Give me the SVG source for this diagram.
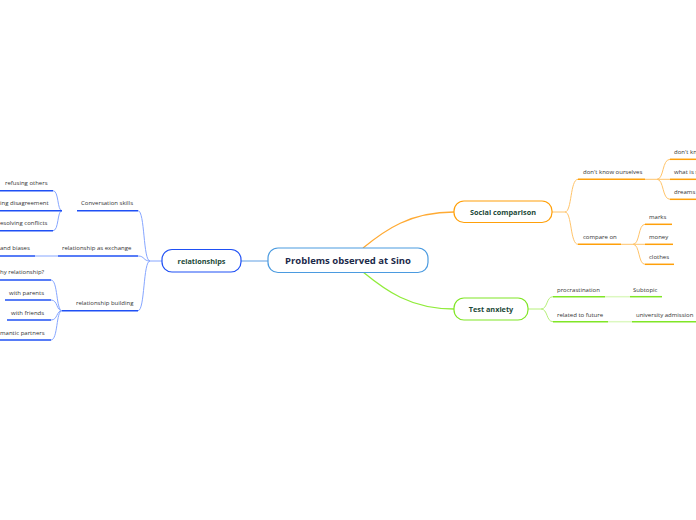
<svg xmlns="http://www.w3.org/2000/svg" width="696" height="520" viewBox="0 0 696 520">
<style>
text{font-family:"Open Sans","Noto Sans","Liberation Sans",sans-serif;}
.sub{font-size:6px;fill:#333;}
.main{font-size:7.3px;font-weight:bold;fill:#1d4a3a;text-anchor:middle;}
.bc{fill:none;stroke:#86a6ff;stroke-width:1;}
.bu{fill:none;stroke:#1f50f5;stroke-width:1.5;}
.oc{fill:none;stroke:#ffc46a;stroke-width:1;}
.ou{fill:none;stroke:#ffa00a;stroke-width:1.5;}
.gc{fill:none;stroke:#b6f07a;stroke-width:1;}
.gu{fill:none;stroke:#80e626;stroke-width:1.5;}
</style>
<rect width="696" height="520" fill="#fff"/>
<g id="connectors">
<path d="M241,261 L268,261" fill="none" stroke="#7ab0e8" stroke-width="1.2"/>
<path d="M363,248 C385,230 410,212 454,212" fill="none" stroke="#ffaa33" stroke-width="1.3"/>
<path d="M363,272 C385,290 410,309 454,309" fill="none" stroke="#90ec3a" stroke-width="1.3"/>
<path class="bc" d="M162,261 L150,261"/>
<path class="bc" d="M150,261 C143,261 145,210.7 138,210.7"/>
<path class="bc" d="M150,261 C143,261 145,256 138,256"/>
<path class="bc" d="M150,261 C143,261 145,310.7 138,310.7"/>
<path class="bc" d="M62,210.7 C57,210.7 59,190.7 53,190.7"/>
<path class="bc" d="M62,210.7 C57,210.7 59,230.7 53,230.7"/>
<path class="bc" d="M58,256 L35,256"/>
<path class="bc" d="M62,310.7 C56,310.7 58,280 51,280"/>
<path class="bc" d="M62,310.7 C56,310.7 58,300 51,300"/>
<path class="bc" d="M62,310.7 C56,310.7 58,320 51,320"/>
<path class="bc" d="M62,310.7 C56,310.7 58,340 51,340"/>
<path class="oc" d="M552,212 L565,212"/>
<path class="oc" d="M565,212 C572,212 570,179.3 578,179.3"/>
<path class="oc" d="M565,212 C572,212 570,244.3 578,244.3"/>
<path class="oc" d="M645,179.3 L657,179.3"/>
<path class="oc" d="M657,179.3 C664,179.3 662,159.3 670,159.3"/>
<path class="oc" d="M657,179.3 L670,179.3"/>
<path class="oc" d="M657,179.3 C664,179.3 662,199.3 670,199.3"/>
<path class="oc" d="M621,244.3 L633,244.3"/>
<path class="oc" d="M633,244.3 C640,244.3 638,224.3 645,224.3"/>
<path class="oc" d="M633,244.3 L645,244.3"/>
<path class="oc" d="M633,244.3 C640,244.3 638,264.3 645,264.3"/>
<path class="gc" d="M528,309 L541,309"/>
<path class="gc" d="M541,309 C548,309 546,296.7 553,296.7"/>
<path class="gc" d="M541,309 C548,309 546,321.7 553,321.7"/>
<path d="M605,296.7 L630,296.7" fill="none" stroke="#dcf8c0" stroke-width="1.5"/>
<path d="M608,321.7 L632,321.7" fill="none" stroke="#dcf8c0" stroke-width="1.5"/>
</g>
<g id="central">
<rect x="268" y="248" width="160" height="24.5" rx="10" fill="#fff" stroke="#4b9be0" stroke-width="1.2"/>
<text x="348" y="264" font-size="9.5" font-weight="bold" fill="#1c2a4a" text-anchor="middle">Problems observed at Sino</text>
</g>
<g id="relationships">
<rect x="162" y="249.5" width="79" height="22.5" rx="10" fill="#fff" stroke="#1f50f5" stroke-width="1.2"/>
<text class="main" x="201.5" y="263.5">relationships</text>
</g>
<g id="social-comparison">
<rect x="454" y="201" width="98" height="21.5" rx="10" fill="#fff" stroke="#ffa00a" stroke-width="1.2"/>
<text class="main" x="503" y="214.5">Social comparison</text>
</g>
<g id="test-anxiety">
<rect x="454" y="298" width="74" height="22" rx="10" fill="#fff" stroke="#80e626" stroke-width="1.2"/>
<text class="main" x="491" y="311.5">Test anxiety</text>
</g>
<g id="conversation-skills"><path class="bu" d="M77,210.7 L138,210.7"/><text class="sub" x="81" y="205">Conversation skills</text></g>
<g id="refusing-others"><path class="bu" d="M0,190.7 L53,190.7"/><text class="sub" x="5" y="185">refusing others</text></g>
<g id="disagreement"><path class="bu" d="M0,210.7 L62,210.7"/><text class="sub" x="0" y="205">ing disagreement</text></g>
<g id="conflicts"><path class="bu" d="M0,230.7 L53,230.7"/><text class="sub" x="0" y="225">esolving conflicts</text></g>
<g id="relationship-exchange"><path class="bu" d="M58,256 L138,256"/><text class="sub" x="62" y="250">relationship as exchange</text></g>
<g id="biases"><path class="bu" d="M0,256 L35,256"/><text class="sub" x="0" y="250">and biases</text></g>
<g id="relationship-building"><path class="bu" d="M62,310.7 L138,310.7"/><text class="sub" x="76" y="305">relationship building</text></g>
<g id="why-relationship"><path class="bu" d="M0,280 L51,280"/><text class="sub" x="0" y="274">hy relationship?</text></g>
<g id="with-parents"><path class="bu" d="M5,300 L51,300"/><text class="sub" x="9" y="294.5">with parents</text></g>
<g id="with-friends"><path class="bu" d="M7,320 L51,320"/><text class="sub" x="11" y="314.5">with friends</text></g>
<g id="romantic-partners"><path class="bu" d="M0,340 L51,340"/><text class="sub" x="0" y="334.5">mantic partners</text></g>
<g id="dont-know-ourselves"><path class="ou" d="M578,179.3 L645,179.3"/><text class="sub" x="583" y="174">don't know ourselves</text></g>
<g id="dont-kn"><path class="ou" d="M670,159.3 L696,159.3"/><text class="sub" x="674" y="154">don't kn</text></g>
<g id="what-is"><path class="ou" d="M670,179.3 L696,179.3"/><text class="sub" x="674" y="174">what is s</text></g>
<g id="dreams"><path class="ou" d="M670,199.3 L696,199.3"/><text class="sub" x="674" y="194">dreams</text></g>
<g id="compare-on"><path class="ou" d="M578,244.3 L621,244.3"/><text class="sub" x="583" y="239">compare on</text></g>
<g id="marks"><path class="ou" d="M645,224.3 L672,224.3"/><text class="sub" x="649" y="219">marks</text></g>
<g id="money"><path class="ou" d="M645,244.3 L673,244.3"/><text class="sub" x="649" y="239">money</text></g>
<g id="clothes"><path class="ou" d="M645,264.3 L674,264.3"/><text class="sub" x="649" y="259">clothes</text></g>
<g id="procrastination"><path class="gu" d="M553,296.7 L605,296.7"/><text class="sub" x="557" y="291.5">procrastination</text></g>
<g id="subtopic"><path class="gu" d="M630,296.7 L662,296.7"/><text class="sub" x="633" y="291.5">Subtopic</text></g>
<g id="related-to-future"><path class="gu" d="M553,321.7 L608,321.7"/><text class="sub" x="557" y="316.5">related to future</text></g>
<g id="university-admission"><path class="gu" d="M632,321.7 L696,321.7"/><text class="sub" x="636" y="316.5">university admission</text></g>
</svg>
